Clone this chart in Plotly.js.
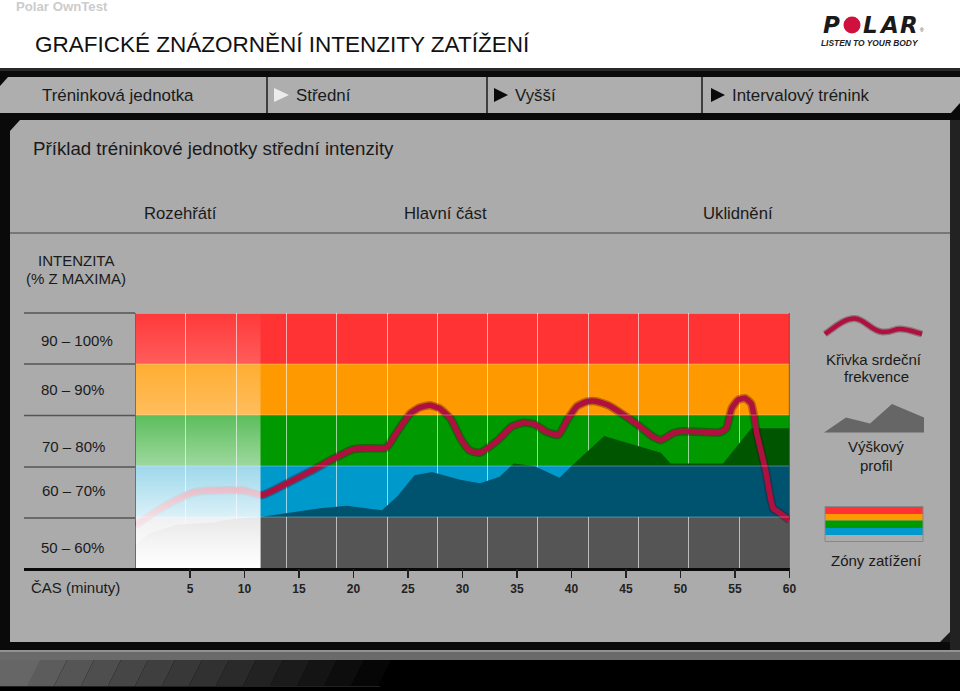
<!DOCTYPE html>
<html><head><meta charset="utf-8">
<script src="https://cdn.plot.ly/plotly-3.0.1.min.js"></script>
<style>html,body{margin:0;padding:0;background:#fff;overflow:hidden}#c{width:960px;height:691px}</style>
</head><body><div id="c"></div>
<script>
// ---- data ----
const hrMinutes = [0,1.9,3.8,5.3,6.8,9.9,11.6,13.9,16,18.5,20,21.2,23,24,25.2,26.1,27,27.9,28.9,29.9,30.7,31.6,32.5,33.4,34.5,35.6,36.6,37.7,38.8,39.6,40.5,41.4,42.2,43.4,44.8,46.3,47.5,48.2,49.4,50.3,53.6,54.2,54.7,55.3,55.9,56.5,57,57.8,58.5,59.1,60];
const hrPercent = [58.3,61.1,63.4,64.8,65.2,65.2,64.3,66.6,68.9,71.8,73.3,73.5,73.6,76.7,80.3,81.5,81.9,81.3,79.3,75.1,73,72.6,73.8,75.4,77.7,78.5,78.2,76.7,76.1,79,81.7,82.6,82.7,81.9,80,77.7,75.7,75.1,76.5,76.8,76.6,77.4,81.3,83,83.3,82.2,76.4,69.2,61.7,60.8,59.4];
const profileMinutes = [11.47,13.9,16.9,19.4,22.6,24,25.6,27.2,29.8,31.6,33.4,34.7,36.6,38.9,40,43,48.2,49.1,53.9,56.5,60];
const profilePercent = [60,60.7,61.7,62.2,61.3,64,68.2,68.8,67.3,66.6,67.9,70.5,70,67.7,70,75.9,72.6,70.5,70.5,77.4,77.4];
const warmupProfileMinutes = [0,1.3,3.8,7.1,9,11.47];
const warmupProfilePercent = [54.6,56.8,58.5,58.9,59.6,60];
const zoneLow  = [90,80,70,60,50];
const zoneHigh = [100,90,80,70,60];
const zoneColors = ['#FF3333','#FF9900','#009900','#0099CC','#555555'];
const zoneLabels = ['90 – 100%','80 – 90%','70 – 80%','60 – 70%','50 – 60%'];
const timeTicks = [5,10,15,20,25,30,35,40,45,50,55,60];
const warmupEnd = 11.47;
const tabLabels = ['Tréninková jednotka','Střední','Vyšší','Intervalový trénink'];
const phaseLabels = ['Rozehřátí','Hlavní část','Uklidnění'];

// ---- page helpers: pixel -> paper ----
const W=960,H=691;
const X=p=>p/W, Y=p=>1-p/H;
const FONT='"Liberation Sans", Arial, sans-serif';
const shapes=[];
const rect=(x0,y0,x1,y1,c,layer)=>shapes.push({type:'rect',xref:'paper',yref:'paper',x0:X(x0),x1:X(x1),y0:Y(y0),y1:Y(y1),fillcolor:c,line:{width:0},layer:layer||'below'});
const hline=(x0,x1,y,c,w)=>shapes.push({type:'line',xref:'paper',yref:'paper',x0:X(x0),x1:X(x1),y0:Y(y),y1:Y(y),line:{color:c,width:w},layer:'below'});
const vline=(x,y0,y1,c,w)=>shapes.push({type:'line',xref:'paper',yref:'paper',x0:X(x),x1:X(x),y0:Y(y0),y1:Y(y1),line:{color:c,width:w},layer:'below'});
const poly=(pts,c)=>{
  const d='M'+pts.map(p=>X(p[0])+','+Y(p[1])).join('L')+'Z';
  shapes.push({type:'path',xref:'paper',yref:'paper',path:d,fillcolor:c,line:{width:0},layer:'below'});
};

// frame
rect(0,68,960,660,'#0a0a0a');
rect(950,120,960,660,'#222222');
rect(0,68,960,71,'#2a2a2a');
rect(0,77,960,113,'#AEAEAE');
poly([[0,77],[8,77],[0,86]],'#0a0a0a');
poly([[960,103],[960,113],[951,113]],'#0a0a0a');
[267,487,702].forEach(x=>vline(x,77,113,'#1a1a1a',1.5));
rect(10,120,950,642,'#ABABAB');
poly([[10,120],[20,120],[10,131]],'#0a0a0a');
poly([[950,632],[950,642],[940,642]],'#1a1a1a');
hline(10,950,233,'#444444',1.2);
// bottom strip
rect(0,650,960,660,'#6a6a6a');
hline(0,960,651,'#929292',2);
rect(0,660,960,691,'#000000');
rect(0,660,40,686,'#666666');
for(let i=0;i<13;i++){
  const g=Math.max(0,Math.round(92-i*7.2));
  const x=40+i*27;
  poly([[x,660],[x+27,660],[x+14,686],[x-13,686]],'rgb('+g+','+g+','+g+')');
}
hline(0,380,686.5,'#2a2a2a',0.8);
// tab triangles
poly([[274,88],[289,95],[274,102]],'#ECECEC');
poly([[494,88],[508,95],[494,102]],'#0a0a0a');
poly([[711,88],[725,95],[711,102]],'#0a0a0a');
// row rules left of the chart
[313,364,415.5,467,518].forEach(y=>hline(24,135,y,'#555555',1.5));
hline(24,790,569.5,'#0a0a0a',3);
// legend graphics
const legendHRd='M'+X(825)+','+Y(334)+' C'+X(835)+','+Y(327)+' '+X(845)+','+Y(318)+' '+X(855)+','+Y(318.5)
 +' S'+X(872)+','+Y(332)+' '+X(883)+','+Y(332)+' S'+X(893)+','+Y(329)+' '+X(900)+','+Y(329)+' S'+X(912)+','+Y(331)+' '+X(922)+','+Y(334);
shapes.push({type:'path',xref:'paper',yref:'paper',path:legendHRd,line:{color:'rgba(90,20,40,0.35)',width:7},layer:'below'});
shapes.push({type:'path',xref:'paper',yref:'paper',path:legendHRd,line:{color:'#B0103F',width:4.5},layer:'below'});
poly([[824,432.5],[846,417.5],[870,423.5],[892,404],[924,417.5],[924,432.5]],'#666666');
[[507,514,'#FF3333'],[514,520.5,'#FF9900'],[520.5,528,'#009900'],[528,535,'#0099CC'],[535,541.5,'#ABABAB']].forEach(s=>rect(825,s[0],923,s[1],s[2]));
shapes.push({type:'rect',xref:'paper',yref:'paper',x0:X(825),x1:X(923),y0:Y(506.5),y1:Y(541.5),line:{color:'#888888',width:1},layer:'below'});
// logo dot
shapes.push({type:'circle',xref:'paper',yref:'paper',x0:X(843.5),x1:X(860.5),y0:Y(16.5),y1:Y(33.5),fillcolor:'#D0103F',line:{width:0},layer:'below'});

// zones, drawn through the data axes
zoneLow.forEach((lo,i)=>shapes.push({type:'rect',xref:'x',yref:'y',x0:0,x1:60,y0:lo,y1:zoneHigh[i],fillcolor:zoneColors[i],line:{width:0},layer:'below'}));
shapes.push({type:'rect',xref:'x',yref:'y',x0:0,x1:warmupEnd,y0:50,y1:60,fillcolor:'#9a9a9a',line:{width:0},layer:'below'});

// zone edge lines and axis borders, above
zoneHigh.slice(1).forEach(v=>shapes.push({type:'line',xref:'x',yref:'y',x0:0,x1:60,y0:v,y1:v,line:{color:'rgba(255,255,255,0.3)',width:1},layer:'above'}));
shapes.push({type:'line',xref:'x',yref:'y',x0:0,x1:60,y0:100,y1:100,line:{color:'rgba(255,215,215,0.9)',width:1.2},layer:'above'});
shapes.push({type:'line',xref:'x',yref:'y',x0:0,x1:0,y0:50,y1:100,line:{color:'#333333',width:1},layer:'above'});
shapes.push({type:'line',xref:'x',yref:'y',x0:60,x1:60,y0:50,y1:100,line:{color:'#333333',width:1.2},layer:'above'});

// ---- text ----
const ann=[];
const text=(t,x,y,size,color,anchor,family)=>ann.push({text:t,xref:'paper',yref:'paper',x:X(anchor==='center'?x:x-2),y:Y(y),xanchor:anchor||'left',yanchor:'middle',showarrow:false,align:anchor||'left',font:{family:family||FONT,size:size,color:color||'#1a1a1a'}});
text('<b>Polar OwnTest</b>',16,6,13.2,'#CCCCCC');
text('GRAFICKÉ ZNÁZORNĚNÍ INTENZITY ZATÍŽENÍ',35,44.5,22.5,'#111111');
text(tabLabels[0],42,95,16.9);
text(tabLabels[1],296,95,16.9);
text(tabLabels[2],515,95,16.9);
text(tabLabels[3],732,95,16.9);
text('Příklad tréninkové jednotky střední intenzity',33,149,18.7);
text(phaseLabels[0],180,213,16.7,null,'center');
text(phaseLabels[1],445.5,213,16.7,null,'center');
text(phaseLabels[2],738,213,16.7,null,'center');
text('INTENZITA',76,260,15,null,'center');
text('(% Z MAXIMA)',76,278.5,15,null,'center');
[[41,340],[41,389],[42,447],[42,490],[41,547]].forEach((p,i)=>text(zoneLabels[i],p[0],p[1],15));
text('ČAS (minuty)',31,587,15);
text('Křivka srdeční',873.5,359,15,null,'center');
text('frekvence',876,377,15,null,'center');
text('Výškový',876,446.5,15,null,'center');
text('profil',876,465,15,null,'center');
text('Zóny zatížení',876,560,15,null,'center');
const LOGO='"DejaVu Sans", sans-serif';
text('<b><i>P</i></b>',823,25,23,'#1a1a1a',null,LOGO);
text('<b><i>L</i></b>',863,25,23,'#1a1a1a',null,LOGO);
text('<b><i>A</i></b>',879,25,23,'#1a1a1a',null,LOGO);
text('<b><i>R</i></b>',900,25,23,'#1a1a1a',null,LOGO);
text('®',920,30,5,'#444444');
text('<b><i>LISTEN TO YOUR BODY</i></b>',870,43,8.4,'#222222','center');

// ---- traces ----
const base=Array(profileMinutes.length).fill(60);
const traces=[
 {x:[0,60],y:[50,50],xaxis:'x2',yaxis:'y',mode:'none',hoverinfo:'skip',showlegend:false},
 {x:warmupProfileMinutes,y:warmupProfilePercent,mode:'lines',line:{width:0},fill:'tozeroy',fillcolor:'#555555',hoverinfo:'skip',showlegend:false},
 {x:profileMinutes,y:base,mode:'lines',line:{width:0},hoverinfo:'skip',showlegend:false},
 {x:profileMinutes,y:profilePercent,mode:'lines',line:{width:0},fill:'tonexty',hoverinfo:'skip',showlegend:false,
  fillgradient:{type:'vertical',start:100,stop:50,colorscale:[[0,'#005500'],[0.6,'#005500'],[0.6,'#00536F'],[1,'#00536F']]}},
 {x:hrMinutes,y:hrPercent,mode:'lines',line:{color:'rgba(60,10,30,0.35)',width:8.5,shape:'spline',smoothing:0.5},hoverinfo:'skip',showlegend:false},
 {x:hrMinutes,y:hrPercent,mode:'lines',line:{color:'#B0103F',width:5.5,shape:'spline',smoothing:0.5},showlegend:false,cliponaxis:false},
 // warm-up white veil over everything in the first minutes
 {x:[0,warmupEnd,warmupEnd,0,0],y:[50,50,100,100,50],mode:'lines',line:{width:0},fill:'toself',hoverinfo:'skip',showlegend:false,
  fillgradient:{type:'vertical',start:100,stop:50,colorscale:[[0,'rgba(255,255,255,0.03)'],[0.2,'rgba(255,255,255,0.2)'],[0.4,'rgba(255,255,255,0.36)'],[0.6,'rgba(255,255,255,0.62)'],[0.8,'rgba(255,255,255,0.86)'],[0.9,'rgba(255,255,255,0.94)'],[1,'rgba(255,255,255,1)']]}}
];

const layout={
 width:W,height:H,margin:{l:0,r:0,t:0,b:0},paper_bgcolor:'#ffffff',plot_bgcolor:'rgba(0,0,0,0)',showlegend:false,
 xaxis:{domain:[X(135.5),X(789.5)],range:[0,60],tickmode:'array',tickvals:timeTicks,ticktext:timeTicks.map(String),ticks:'outside',ticklen:9,tickwidth:1.5,tickcolor:'#222',ticklabelstandoff:1,showgrid:false,zeroline:false,showline:false,anchor:'y',
   tickfont:{family:FONT,size:12,color:'#222222',weight:700},automargin:false,fixedrange:true},
 xaxis2:{overlaying:'x',domain:[X(135.5),X(789.5)],range:[0,60],dtick:60/13,tick0:0,showgrid:true,gridcolor:'rgba(255,255,255,0.6)',gridwidth:1,showticklabels:false,ticks:'',zeroline:false,showline:false,anchor:'y',side:'bottom',fixedrange:true},
 yaxis:{domain:[Y(568),Y(313)],range:[50,100],showgrid:false,zeroline:false,showline:false,showticklabels:false,ticks:'',automargin:false,fixedrange:true},
 shapes:shapes,annotations:ann
};
Plotly.newPlot('c',traces,layout,{displayModeBar:false,staticPlot:true});
</script></body></html>
